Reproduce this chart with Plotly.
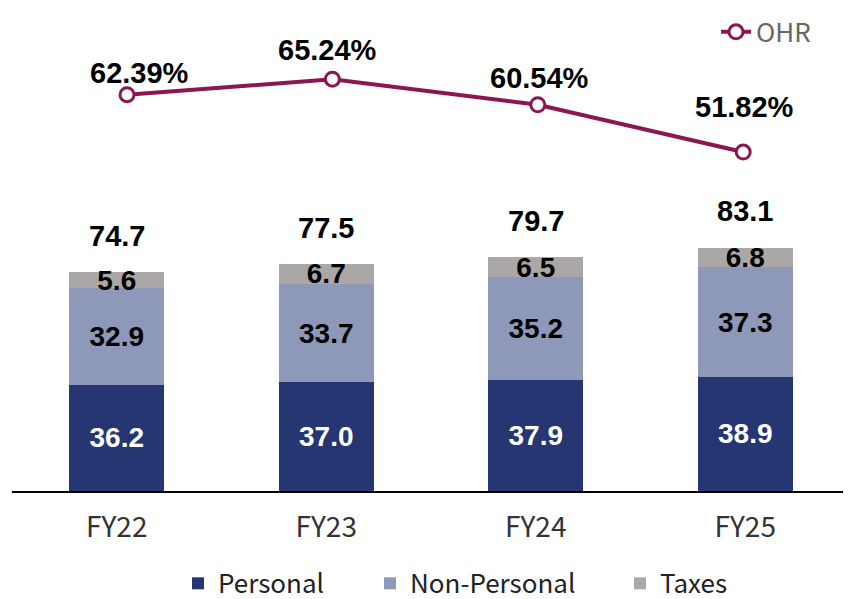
import plotly.graph_objects as go

categories = ["FY22", "FY23", "FY24", "FY25"]
personal = [36.2, 37.0, 37.9, 38.9]
non_personal = [32.9, 33.7, 35.2, 37.3]
taxes = [5.6, 6.7, 6.5, 6.8]
totals = [74.7, 77.5, 79.7, 83.1]
ohr = [62.39, 65.24, 60.54, 51.82]

C_PERS = "#263672"
C_NONP = "#8E98B8"
C_TAX = "#ABA7A6"
C_OHR = "#8C1650"

NUM_FONT = "Liberation Sans, Arial, sans-serif"
TXT_FONT = "Noto Sans CJK JP, Noto Sans, sans-serif"

# The page body adds an 8px offset; the figure is laid out so that the
# visible plot area spans screen x 12..850 and y 0..491.
OFF = 8
PLOT_L, PLOT_W = 12 - OFF, 838
PLOT_H = 491 - OFF
FIG_W, FIG_H = 851, 620


def px_x(p):
    return (p - 12) / PLOT_W


def px_y(p):
    return (491 - p) / PLOT_H


fig = go.Figure()


def add_bar(name, vals, color, tcolor, legend):
    fig.add_trace(go.Bar(
        x=categories, y=vals, name=name,
        marker=dict(color=color, line=dict(width=0)),
        text=[f"{v:.1f}" for v in vals],
        textposition="inside", insidetextanchor="middle",
        constraintext="none", cliponaxis=False,
        textfont=dict(family=NUM_FONT, size=28, color=tcolor, weight="bold"),
        legend=legend,
    ))


add_bar("Personal", personal, C_PERS, "white", "legend")
add_bar("Non-Personal", non_personal, C_NONP, "black", "legend3")
add_bar("Taxes", taxes, C_TAX, "black", "legend4")

fig.add_trace(go.Scatter(
    x=list(range(len(categories))), y=ohr, name="OHR",
    mode="lines+markers", xaxis="x2", yaxis="y2",
    line=dict(color=C_OHR, width=4),
    marker=dict(size=14, color="white", line=dict(color=C_OHR, width=3)),
    legend="legend2", cliponaxis=False,
))

annotations = []
for c, t in zip(categories, totals):
    annotations.append(dict(
        x=c, y=t, xref="x", yref="y", text=f"{t:.1f}", showarrow=False,
        yanchor="bottom", yshift=18,
        font=dict(family=NUM_FONT, size=29, color="black", weight="bold"),
    ))
ohr_xshift = [12, -5, 2, 1]
ohr_yshift = [4, 11, 9, 27]
for i, v in enumerate(ohr):
    annotations.append(dict(
        x=i, y=v, xref="x2", yref="y2", text=f"{v:.2f}%", showarrow=False,
        yanchor="bottom", xshift=ohr_xshift[i], yshift=ohr_yshift[i],
        font=dict(family=NUM_FONT, size=29, color="black", weight="bold"),
    ))


def bottom_legend(px_left):
    return dict(
        orientation="h", x=px_x(px_left), xanchor="left",
        y=px_y(584), yanchor="middle",
        font=dict(family=TXT_FONT, size=26, color="#222222"),
        bgcolor="rgba(0,0,0,0)", borderwidth=0,
    )


fig.update_layout(
    template="none",
    width=FIG_W, height=FIG_H,
    margin=dict(l=PLOT_L, r=FIG_W - PLOT_L - PLOT_W, t=0, b=FIG_H - PLOT_H),
    paper_bgcolor="white", plot_bgcolor="white",
    barmode="stack", bargap=0.545,
    showlegend=True,
    annotations=annotations,
    xaxis=dict(
        type="category", range=[-0.5, 3.5], automargin=False,
        showgrid=False, zeroline=False,
        showline=True, linecolor="black", linewidth=1.5,
        ticks="outside", ticklen=11, tickcolor="rgba(0,0,0,0)",
        tickfont=dict(family=TXT_FONT, size=28, color="#333333"),
    ),
    xaxis2=dict(
        overlaying="x", range=[-0.56, 3.52], visible=False, automargin=False,
    ),
    yaxis=dict(range=[0, PLOT_H / 2.952], visible=False, automargin=False),
    yaxis2=dict(overlaying="y", range=[-10.62, 77.81], visible=False,
                automargin=False),
    legend=bottom_legend(178),
    legend3=bottom_legend(370),
    legend4=bottom_legend(620),
    legend2=dict(
        orientation="h", x=px_x(716), xanchor="left", y=px_y(29), yanchor="middle",
        font=dict(family=TXT_FONT, size=26, color="#666666"),
        bgcolor="rgba(0,0,0,0)", borderwidth=0,
    ),
)

fig.write_html("out.html")
